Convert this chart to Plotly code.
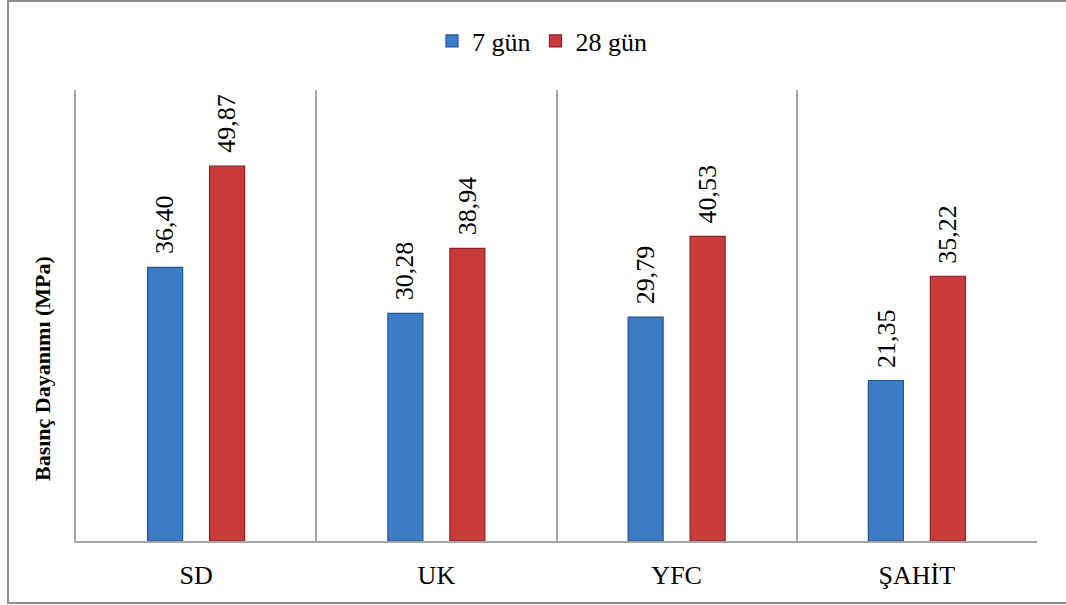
import plotly.graph_objects as go

categories = ["SD", "UK", "YFC", "ŞAHİT"]
gun7 = [36.40, 30.28, 29.79, 21.35]
gun28 = [49.87, 38.94, 40.53, 35.22]
series_names = ["7 gün", "28 gün"]

W, H = 1066, 605
L, R, T, B = 76, 29, 90, 64
plot_w = W - L - R
plot_h = H - T - B

SERIF = "Liberation Serif"
BAR_SHIFT = 31  # px from category centre to each bar centre


def fmt(v):
    return f"{v:.2f}".replace(".", ",")


def px_to_paper_x(px):
    return (px - L) / plot_w


def px_to_paper_y(py):
    return (H - B - py) / plot_h


fig = go.Figure()
annotations = []
series = [
    (series_names[0], gun7, "#3c7bc6", "#25548f", -BAR_SHIFT),
    (series_names[1], gun28, "#c93a3b", "#8a2224", BAR_SHIFT),
]
for name, vals, fill, edge, shift in series:
    fig.add_trace(go.Bar(
        name=name,
        x=categories,
        y=vals,
        marker=dict(color=fill, line=dict(color=edge, width=1.2)),
    ))
    # rotated value labels above each bar
    for cat, v in zip(categories, vals):
        annotations.append(dict(
            x=cat, y=v, xref="x", yref="y",
            text=fmt(v),
            textangle=-90,
            xanchor="center", yanchor="bottom",
            xshift=shift, yshift=11,
            showarrow=False,
            font=dict(family=SERIF, size=26, color="#000000"),
        ))

annotations.append(dict(
    text="<b>Basınç Dayanımı (MPa)</b>",
    xref="paper", yref="paper",
    x=px_to_paper_x(42), y=px_to_paper_y(369),
    xanchor="center", yanchor="middle",
    textangle=-90,
    showarrow=False,
    font=dict(family=SERIF, size=22, color="#000000"),
))

fig.update_layout(
    width=W,
    height=H,
    margin=dict(l=L, r=R, t=T, b=B),
    paper_bgcolor="white",
    plot_bgcolor="white",
    barmode="group",
    bargap=0.484,
    bargroupgap=0.435,
    font=dict(family=SERIF, size=26, color="#000000"),
    showlegend=True,
    legend=dict(
        orientation="h",
        x=px_to_paper_x(542),
        xanchor="center",
        y=px_to_paper_y(41),
        yanchor="middle",
        font=dict(family=SERIF, size=26, color="#000000"),
        itemwidth=30,
        tracegroupgap=0,
        bgcolor="rgba(0,0,0,0)",
    ),
    xaxis=dict(
        type="category",
        tickson="boundaries",
        showgrid=True,
        gridcolor="#a6a6a6",
        gridwidth=1.5,
        showline=True,
        linecolor="#a6a6a6",
        linewidth=2,
        ticks="",
        tickfont=dict(family=SERIF, size=26, color="#000000"),
        ticklabelstandoff=10,
    ),
    yaxis=dict(
        range=[0, 60],
        showgrid=False,
        showticklabels=False,
        ticks="",
        showline=True,
        linecolor="#a6a6a6",
        linewidth=2,
        zeroline=False,
    ),
    annotations=annotations,
    shapes=[
        dict(
            type="rect",
            xref="paper",
            yref="paper",
            x0=px_to_paper_x(8),
            x1=px_to_paper_x(1070),
            y0=px_to_paper_y(603),
            y1=px_to_paper_y(1),
            line=dict(color="#8c8c8c", width=2),
            fillcolor="rgba(0,0,0,0)",
            layer="below",
        )
    ],
)

fig.write_html("out.html")
